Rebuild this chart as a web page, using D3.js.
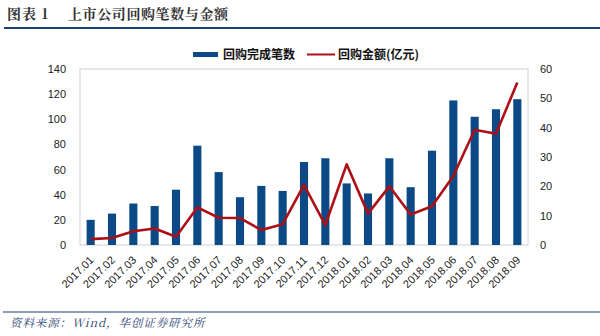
<!DOCTYPE html>
<html><head><meta charset="utf-8">
<script src="https://cdn.jsdelivr.net/npm/d3@7"></script>
<style>body{margin:0;background:#fff;}svg{display:block;}</style>
</head><body>
<svg id="c" width="600" height="336"></svg>
<script>
const categories = ["2017.01","2017.02","2017.03","2017.04","2017.05","2017.06","2017.07","2017.08","2017.09","2017.10","2017.11","2017.12","2018.01","2018.02","2018.03","2018.04","2018.05","2018.06","2018.07","2018.08","2018.09"];
const counts = [20,25,33,31,44,79,58,38,47,43,66,69,49,41,69,46,75,115,102,108,116];
const amounts = [2,2.4,4.7,5.6,2.8,12.8,9.3,9.2,5.1,7.1,20.5,6.8,27.5,10.7,20,10.4,13.2,23.5,39.3,37.9,55.4];
const leftTicks = [0,20,40,60,80,100,120,140];
const rightTicks = [0,10,20,30,40,50,60];
const seriesNames = ["回购完成笔数","回购金额(亿元)"];

const svg = d3.select("#c");
const font = "'Liberation Sans', Arial, sans-serif";
const cjk = "'Noto Sans CJK SC', sans-serif";
const serif = "'Noto Serif CJK SC','Noto Sans CJK SC',serif";
const L = 80, R = 528, T = 69, B = 245;

// Title
svg.append("text").attr("x",7).attr("y",19).attr("font-family",serif).attr("font-weight","bold")
  .attr("font-size",14).attr("fill","#333").attr("letter-spacing",1).text("图表 1");
svg.append("text").attr("x",68).attr("y",19).attr("font-family",serif).attr("font-weight","bold")
  .attr("font-size",14).attr("fill","#333").attr("letter-spacing",0.6).text("上市公司回购笔数与金额");
svg.append("line").attr("x1",4).attr("x2",600).attr("y1",28).attr("y2",28).attr("stroke","#1f3f73").attr("stroke-width",2);

const x = d3.scaleBand().domain(categories).range([L,R]).paddingInner(0.62).paddingOuter(0.31);
const yL = d3.scaleLinear().domain([0,140]).range([B,T]);
const yR = d3.scaleLinear().domain([0,60]).range([B,T]);

// plot border
svg.append("rect").attr("x",L).attr("y",T).attr("width",R-L).attr("height",B-T)
  .attr("fill","none").attr("stroke","#d0d0d0").attr("stroke-width",1);

svg.selectAll("rect.bar").data(counts).enter().append("rect").attr("class","bar")
  .attr("x",(d,i)=>x(categories[i])).attr("width",x.bandwidth())
  .attr("y",d=>yL(d)).attr("height",d=>B-yL(d)).attr("fill","#0b4a86");

const line = d3.line().x((d,i)=>x(categories[i])+x.bandwidth()/2).y(d=>yR(d));
svg.append("path").datum(amounts).attr("d",line).attr("fill","none")
  .attr("stroke","#ac1016").attr("stroke-width",2.6).attr("stroke-linejoin","round");

// axes
const gL = svg.append("g").attr("transform",`translate(${L},0)`)
  .call(d3.axisLeft(yL).tickValues(leftTicks).tickSize(0).tickPadding(14));
gL.select(".domain").remove();
gL.selectAll("text").attr("font-family",font).attr("font-size",11).attr("fill","#222");

const gR = svg.append("g").attr("transform",`translate(${R},0)`)
  .call(d3.axisRight(yR).tickValues(rightTicks).tickSize(0).tickPadding(12));
gR.select(".domain").remove();
gR.selectAll("text").attr("font-family",font).attr("font-size",11).attr("fill","#222");

const gX = svg.append("g").attr("transform",`translate(0,${B})`)
  .call(d3.axisBottom(x).tickSize(0).tickPadding(0));
gX.select(".domain").remove();
gX.selectAll("text").attr("font-family",font).attr("font-size",11).attr("fill","#222")
  .attr("text-anchor","end").attr("x",0).attr("y",0).attr("dy","0.35em")
  .attr("transform","translate(1,13) rotate(-45)");

// legend
svg.append("rect").attr("x",193).attr("y",52).attr("width",25).attr("height",5).attr("fill","#0b4a86");
svg.append("text").attr("x",223).attr("y",59).attr("font-family",cjk).attr("font-weight","bold")
  .attr("font-size",12).attr("fill","#111").text(seriesNames[0]);
svg.append("line").attr("x1",307).attr("x2",335).attr("y1",54.5).attr("y2",54.5).attr("stroke","#ac1016").attr("stroke-width",2);
svg.append("text").attr("x",338).attr("y",59).attr("font-family",cjk).attr("font-weight","bold")
  .attr("font-size",12).attr("fill","#111").text(seriesNames[1]);

// footer
svg.append("line").attr("x1",3).attr("x2",600).attr("y1",312).attr("y2",312).attr("stroke","#1f3f73").attr("stroke-width",1.2);
svg.append("text").attr("x",10).attr("y",327).attr("font-family",serif)
  .attr("font-style","italic").attr("font-size",11.5).attr("letter-spacing",0.9).attr("fill","#1f3f73").text("资料来源：Wind，华创证券研究所");
</script>
</body></html>
